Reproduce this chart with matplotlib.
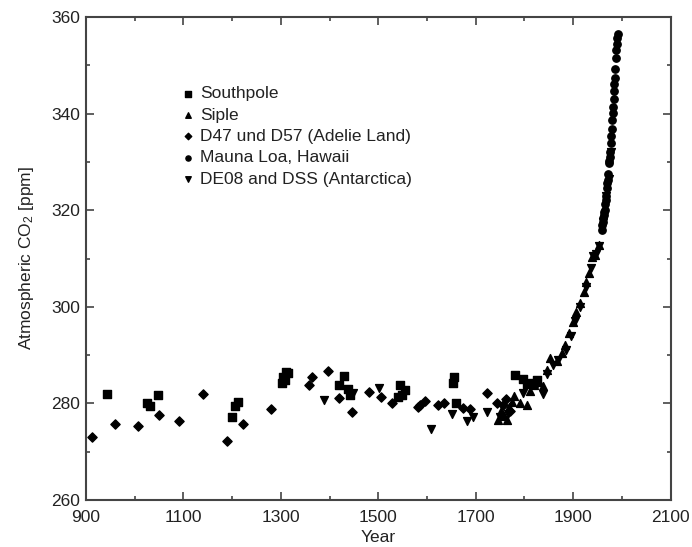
import matplotlib
matplotlib.use("Agg")
import matplotlib.pyplot as plt

plt.rcParams['font.family'] = ['Liberation Sans', 'DejaVu Sans']
plt.rcParams['mathtext.fontset'] = 'custom'
plt.rcParams['mathtext.rm'] = 'Liberation Sans'
plt.rcParams['mathtext.it'] = 'Liberation Sans'

# Southpole (squares)
sp_year = [944, 1025, 1031, 1048, 1200, 1206, 1212, 1302, 1305, 1308, 1310, 1314,
           1420, 1430, 1437, 1442, 1541, 1545, 1548, 1555, 1653, 1655, 1660,
           1781, 1797, 1805, 1815, 1826]
sp_ppm = [281.9, 280.0, 279.5, 281.7, 277.2, 279.5, 280.3, 284.2, 285.5, 284.8, 286.6, 286.2,
          283.8, 285.7, 283.0, 281.7, 281.4, 283.8, 281.7, 282.8, 284.2, 285.5, 280.0,
          285.9, 285.0, 284.0, 284.3, 284.8]

# Siple (up triangles)
si_year = [1746, 1752, 1758, 1764, 1768, 1774, 1778, 1791, 1805, 1812, 1820, 1830,
           1839, 1846, 1853, 1866, 1877, 1883, 1891, 1900, 1907, 1915, 1922, 1927,
           1933, 1938, 1945, 1953]
si_ppm = [276.6, 278.5, 277.3, 276.6, 279.2, 280.2, 281.5, 280.0, 279.7, 282.6, 283.8, 284.5,
          283.5, 287.0, 289.5, 288.8, 290.4, 292.1, 294.6, 296.8, 299.0, 300.7, 303.0, 305.2,
          307.0, 310.3, 310.8, 312.7]

# D47 und D57 (diamonds)
d47_year = [912, 960, 1007, 1049, 1090, 1140, 1189, 1223, 1279, 1358, 1365, 1397,
            1420, 1446, 1480, 1506, 1528, 1582, 1586, 1596, 1623, 1634, 1675, 1688,
            1723, 1743, 1756, 1762, 1770]
d47_ppm = [273.1, 275.7, 275.3, 277.5, 276.3, 282.0, 272.3, 275.7, 278.9, 283.9, 285.5, 286.8,
           281.1, 278.3, 282.4, 281.3, 280.1, 279.3, 279.7, 280.4, 279.7, 280.0, 279.0, 278.8,
           282.1, 280.0, 279.6, 281.0, 278.5]

# Mauna Loa (circles)
ml_year = list(range(1959, 1993))
ml_ppm = [315.98, 316.91, 317.64, 318.45, 318.99, 319.62, 320.04, 321.38, 322.16, 323.04,
          324.62, 325.68, 326.32, 327.45, 329.68, 330.18, 331.11, 332.04, 333.83, 335.40,
          336.84, 338.75, 340.11, 341.45, 343.05, 344.65, 346.12, 347.42, 349.19, 351.57,
          353.12, 354.39, 355.61, 356.45]

# DE08 and DSS (down triangles)
de_year = [1389, 1449, 1502, 1608, 1651, 1683, 1695, 1723, 1750, 1766, 1797, 1812,
           1825, 1838, 1847, 1858, 1870, 1885, 1895, 1904, 1915, 1926, 1936, 1941,
           1948, 1953, 1962, 1968, 1973, 1978]
de_ppm = [280.8, 282.2, 283.1, 274.8, 277.8, 276.4, 277.1, 278.2, 277.2, 277.8, 282.2, 283.5,
          284.0, 282.0, 286.0, 288.0, 289.0, 291.0, 294.0, 297.0, 300.0, 304.0, 308.0, 310.5,
          311.0, 312.5, 317.5, 323.0, 326.5, 332.0]

x_major = list(range(900, 2101, 200))
x_minor = list(range(1000, 2100, 200))
y_major = list(range(260, 361, 20))
y_minor = list(range(270, 360, 20))

fig = plt.figure(figsize=(6.92, 5.47), dpi=100)
ax = fig.add_axes([86 / 692, 47 / 547, 584.5 / 692, 483 / 547])

k = 'black'
ax.scatter(sp_year, sp_ppm, marker='s', s=30, color=k, label='Southpole', zorder=3)
ax.scatter(si_year, si_ppm, marker='^', s=32, color=k, label='Siple', zorder=3)
ax.scatter(d47_year, d47_ppm, marker='D', s=22, color=k, label='D47 und D57 (Adelie Land)', zorder=3)
ax.scatter(ml_year, ml_ppm, marker='o', s=28, color=k, label='Mauna Loa, Hawaii', zorder=3)
ax.scatter(de_year, de_ppm, marker='v', s=32, color=k, label='DE08 and DSS (Antarctica)', zorder=3)

ax.set_xlim(900, 2100)
ax.set_ylim(260, 360)
ax.set_xticks(x_major)
ax.set_xticks(x_minor, minor=True)
ax.set_yticks(y_major)
ax.set_yticks(y_minor, minor=True)
ax.tick_params(which='both', direction='in', top=True, right=True,
               color='#444444', labelsize=12.5, labelcolor='#222222', width=1.2)
ax.tick_params(which='major', length=6)
ax.tick_params(axis='x', which='major', pad=7)
ax.tick_params(axis='y', which='major', pad=4)
ax.tick_params(which='minor', length=3)
for sp in ax.spines.values():
    sp.set_color('#444444')
    sp.set_linewidth(1.5)

ax.set_xlabel('Year', fontsize=12.5, color='#222222', labelpad=4)
ax.set_ylabel('Atmospheric CO$_2$ [ppm]', fontsize=12.5, color='#222222', labelpad=11)

ax.legend(frameon=False, loc='upper left', bbox_to_anchor=(183 / 692, 1 - 86 / 547),
          bbox_transform=fig.transFigure, fontsize=12.5, markerscale=0.7,
          handlelength=0.6, handletextpad=0.4, labelspacing=0.36, borderpad=0,
          borderaxespad=0, labelcolor='#222222')

fig.savefig('out.png', dpi=100)
